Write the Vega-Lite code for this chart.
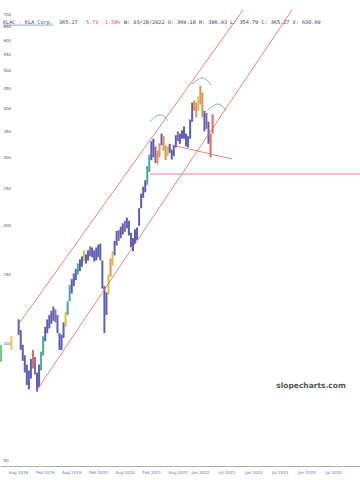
{
  "$schema": "https://vega.github.io/schema/vega-lite/v6.json",
  "width": 360,
  "height": 466,
  "autosize": {"type": "none"},
  "padding": {"left": 0, "top": 0, "right": 0, "bottom": 14},
  "background": "white",
  "config": {"view": {"stroke": null}, "axis": {"grid": false, "labelOverlap": false, "labelSeparation": 0}},
  "datasets": {
    "px": [
      {"t":"2018-08-06","lo":105,"hi":115,"c":"a"},
      {"t":"2018-08-20","lo":96,"hi":108,"c":"a"},
      {"t":"2018-09-03","lo":90,"hi":99,"c":"a"},
      {"t":"2018-09-17","lo":84,"hi":93,"c":"a"},
      {"t":"2018-10-01","lo":78,"hi":88,"c":"a"},
      {"t":"2018-10-15","lo":76,"hi":85,"c":"a"},
      {"t":"2018-10-29","lo":81,"hi":91,"c":"a"},
      {"t":"2018-11-12","lo":86,"hi":96,"c":"r"},
      {"t":"2018-11-26","lo":83,"hi":92,"c":"b"},
      {"t":"2018-12-10","lo":75,"hi":84,"c":"a"},
      {"t":"2018-12-24","lo":77,"hi":88,"c":"a"},
      {"t":"2019-01-07","lo":85,"hi":95,"c":"g"},
      {"t":"2019-01-21","lo":93,"hi":104,"c":"g"},
      {"t":"2019-02-04","lo":101,"hi":110,"c":"a"},
      {"t":"2019-02-18","lo":106,"hi":115,"c":"a"},
      {"t":"2019-03-04","lo":109,"hi":118,"c":"a"},
      {"t":"2019-03-18","lo":112,"hi":121,"c":"a"},
      {"t":"2019-04-01","lo":114,"hi":124,"c":"a"},
      {"t":"2019-04-15","lo":113,"hi":122,"c":"b"},
      {"t":"2019-04-29","lo":106,"hi":118,"c":"a"},
      {"t":"2019-05-13","lo":96,"hi":106,"c":"a"},
      {"t":"2019-05-27","lo":96,"hi":105,"c":"a"},
      {"t":"2019-06-10","lo":103,"hi":113,"c":"a"},
      {"t":"2019-06-24","lo":110,"hi":120,"c":"y"},
      {"t":"2019-07-08","lo":118,"hi":128,"c":"g"},
      {"t":"2019-07-22","lo":128,"hi":141,"c":"g"},
      {"t":"2019-08-05","lo":134,"hi":146,"c":"a"},
      {"t":"2019-08-19","lo":140,"hi":151,"c":"a"},
      {"t":"2019-09-02","lo":145,"hi":155,"c":"a"},
      {"t":"2019-09-16","lo":150,"hi":160,"c":"g"},
      {"t":"2019-09-30","lo":153,"hi":164,"c":"a"},
      {"t":"2019-10-14","lo":157,"hi":167,"c":"a"},
      {"t":"2019-10-28","lo":162,"hi":173,"c":"y"},
      {"t":"2019-11-11","lo":160,"hi":169,"c":"a"},
      {"t":"2019-11-25","lo":163,"hi":173,"c":"a"},
      {"t":"2019-12-09","lo":167,"hi":177,"c":"b"},
      {"t":"2019-12-23","lo":166,"hi":176,"c":"a"},
      {"t":"2020-01-06","lo":162,"hi":173,"c":"a"},
      {"t":"2020-01-20","lo":163,"hi":176,"c":"a"},
      {"t":"2020-02-03","lo":166,"hi":179,"c":"a"},
      {"t":"2020-02-17","lo":163,"hi":180,"c":"a"},
      {"t":"2020-03-02","lo":138,"hi":163,"c":"a"},
      {"t":"2020-03-16","lo":106,"hi":140,"c":"a"},
      {"t":"2020-03-30","lo":118,"hi":135,"c":"a"},
      {"t":"2020-04-13","lo":133,"hi":150,"c":"y"},
      {"t":"2020-04-27","lo":148,"hi":165,"c":"o"},
      {"t":"2020-05-11","lo":158,"hi":172,"c":"y"},
      {"t":"2020-05-25","lo":168,"hi":183,"c":"a"},
      {"t":"2020-06-08","lo":178,"hi":194,"c":"a"},
      {"t":"2020-06-22","lo":183,"hi":195,"c":"b"},
      {"t":"2020-07-06","lo":186,"hi":199,"c":"a"},
      {"t":"2020-07-20","lo":190,"hi":203,"c":"a"},
      {"t":"2020-08-03","lo":193,"hi":206,"c":"b"},
      {"t":"2020-08-17","lo":197,"hi":210,"c":"a"},
      {"t":"2020-08-31","lo":189,"hi":206,"c":"a"},
      {"t":"2020-09-14","lo":176,"hi":192,"c":"a"},
      {"t":"2020-09-28","lo":172,"hi":186,"c":"a"},
      {"t":"2020-10-12","lo":180,"hi":196,"c":"a"},
      {"t":"2020-10-26","lo":184,"hi":198,"c":"a"},
      {"t":"2020-11-09","lo":200,"hi":222,"c":"a"},
      {"t":"2020-11-23","lo":222,"hi":242,"c":"a"},
      {"t":"2020-12-07","lo":236,"hi":252,"c":"a"},
      {"t":"2020-12-21","lo":244,"hi":262,"c":"a"},
      {"t":"2021-01-04","lo":255,"hi":285,"c":"g"},
      {"t":"2021-01-18","lo":275,"hi":305,"c":"g"},
      {"t":"2021-02-01","lo":295,"hi":330,"c":"a"},
      {"t":"2021-02-15","lo":300,"hi":335,"c":"a"},
      {"t":"2021-03-01","lo":290,"hi":320,"c":"b"},
      {"t":"2021-03-15","lo":288,"hi":312,"c":"o"},
      {"t":"2021-03-29","lo":300,"hi":326,"c":"o"},
      {"t":"2021-04-12","lo":322,"hi":345,"c":"a"},
      {"t":"2021-04-26","lo":312,"hi":340,"c":"o"},
      {"t":"2021-05-10","lo":295,"hi":322,"c":"o"},
      {"t":"2021-05-24","lo":302,"hi":320,"c":"y"},
      {"t":"2021-06-07","lo":308,"hi":325,"c":"a"},
      {"t":"2021-06-21","lo":296,"hi":314,"c":"a"},
      {"t":"2021-07-05","lo":302,"hi":322,"c":"a"},
      {"t":"2021-07-19","lo":318,"hi":342,"c":"a"},
      {"t":"2021-08-02","lo":330,"hi":350,"c":"b"},
      {"t":"2021-08-16","lo":325,"hi":345,"c":"a"},
      {"t":"2021-08-30","lo":335,"hi":352,"c":"a"},
      {"t":"2021-09-13","lo":335,"hi":360,"c":"a"},
      {"t":"2021-09-27","lo":320,"hi":345,"c":"a"},
      {"t":"2021-10-11","lo":318,"hi":340,"c":"a"},
      {"t":"2021-10-25","lo":335,"hi":375,"c":"a"},
      {"t":"2021-11-08","lo":370,"hi":415,"c":"a"},
      {"t":"2021-11-22","lo":395,"hi":420,"c":"o"},
      {"t":"2021-12-06","lo":380,"hi":415,"c":"o"},
      {"t":"2021-12-20","lo":395,"hi":430,"c":"y"},
      {"t":"2022-01-03","lo":410,"hi":458,"c":"o"},
      {"t":"2022-01-17","lo":380,"hi":440,"c":"o"},
      {"t":"2022-01-31","lo":350,"hi":395,"c":"a"},
      {"t":"2022-02-14","lo":355,"hi":390,"c":"b"},
      {"t":"2022-02-28","lo":325,"hi":370,"c":"a"},
      {"t":"2022-03-14","lo":300,"hi":345,"c":"r"},
      {"t":"2022-03-28","lo":345,"hi":387,"c":"r"}
    ],
    "mk": [
      {"t":"2018-04-07","lo":89.4,"hi":98.8,"col":"#7cc87c"},
      {"t":"2018-06-17","lo":96,"hi":104.2,"col":"#e8c860"}
    ],
    "ln": [
      {"id":"up","t":"2018-08-01","p":111.2},{"id":"up","t":"2022-10-22","p":717},
      {"id":"lo","t":"2018-12-09","p":75.7},{"id":"lo","t":"2023-09-23","p":717},
      {"id":"hz","t":"2021-01-22","p":271.8},{"id":"hz","t":"2025-01-02","p":271.8},
      {"id":"dn","t":"2021-06-22","p":322.7},{"id":"dn","t":"2022-08-08","p":297}
    ],
    "ul": [
      {"t":"2018-04-20","p":656},{"t":"2019-03-29","p":656}
    ],
    "arc": [
      {"id":"a1","t":"2021-01-22","p":369.8},{"id":"a1","t":"2021-02-25","p":380.9},{"id":"a1","t":"2021-04-01","p":385.4},{"id":"a1","t":"2021-05-05","p":380.9},{"id":"a1","t":"2021-05-26","p":372},
      {"id":"a2","t":"2021-11-06","p":462.9},{"id":"a2","t":"2021-12-11","p":474},{"id":"a2","t":"2022-01-14","p":479.8},{"id":"a2","t":"2022-02-17","p":474},{"id":"a2","t":"2022-03-16","p":460.3},
      {"id":"a3","t":"2022-02-24","p":397},{"id":"a3","t":"2022-03-30","p":406.5},{"id":"a3","t":"2022-05-04","p":411.3},{"id":"a3","t":"2022-05-31","p":406.5},{"id":"a3","t":"2022-06-28","p":397}
    ],
    "hdr": [
      {"t":"2018-04-20","p":668,"s":"KLAC - KLA Corp.","col":"#3a4aa8"},
      {"t":"2019-05-09","p":668,"s":"365.27","col":"#444444"},
      {"t":"2019-10-21","p":668,"s":"-5.79 -1.58%","col":"#e05050"},
      {"t":"2020-07-28","p":668,"s":"W: 03/28/2022 O: 369.18 H: 386.93 L: 354.79 C: 365.27 V: 630.69","col":"#3a3a70"}
    ],
    "wm": [
      {"t":"2024-02-01","p":77.5,"s":"slopecharts.com"}
    ]
  },
  "layer": [
    {
      "data": {"name": "px"},
      "mark": {"type": "rule", "strokeWidth": 2.0},
      "encoding": {
        "x": {"field": "t", "type": "temporal", "title": null,
          "scale": {"domain": [{"year": 2018, "month": "Mar", "date": 31}, {"year": 2025, "month": "Jan", "date": 2}], "nice": false},
          "axis": {"title": null, "format": "%b %Y", "tickCount": 40, "labelFontSize": 4, "labelColor": "#6a70b8", "ticks": false, "domainColor": "#999999", "domainWidth": 0.8, "labelPadding": 4, "labelOverlap": false, "labelSeparation": 0, "labelFont": "DejaVu Sans",
            "values": [1533081600000, 1548979200000, 1564617600000, 1580515200000, 1596240000000, 1612137600000, 1627776000000, 1640995200000, 1656633600000, 1672531200000, 1688169600000, 1704067200000, 1719792000000]}},
        "y": {"field": "lo", "type": "quantitative", "title": null,
          "scale": {"type": "log", "domain": [48.3, 761], "nice": false, "zero": false},
          "axis": {"title": null, "tickCount": 40, "values": [50,100,150,200,250,300,350,400,450,500,550,600,650,700], "format": "d", "domain": false, "ticks": false, "labelAlign": "left", "labelPadding": -3, "labelFontSize": 4, "labelColor": "#555566", "labelOverlap": false, "labelBound": false, "labelFont": "DejaVu Sans"}},
        "y2": {"field": "hi"},
        "color": {"field": "c", "type": "nominal", "legend": null,
          "scale": {"domain": ["a","b","g","y","o","r"], "range": ["#5b5fae","#8a66b0","#4fa39a","#d9c04a","#d9935a","#d86a6a"]}}
      }
    },
    {
      "data": {"name": "mk"},
      "mark": {"type": "rule", "strokeWidth": 2.0},
      "encoding": {
        "x": {"field": "t", "type": "temporal", "title": null},
        "y": {"field": "lo", "type": "quantitative", "title": null},
        "y2": {"field": "hi"},
        "color": {"field": "col", "type": "nominal", "scale": null}
      }
    },
    {
      "data": {"name": "ln"},
      "mark": {"type": "line", "color": "#e06666", "strokeWidth": 0.8},
      "encoding": {
        "x": {"field": "t", "type": "temporal", "title": null},
        "y": {"field": "p", "type": "quantitative", "title": null},
        "detail": {"field": "id"}
      }
    },
    {
      "data": {"name": "ul"},
      "mark": {"type": "line", "color": "#3a4aa8", "strokeWidth": 0.5},
      "encoding": {
        "x": {"field": "t", "type": "temporal", "title": null},
        "y": {"field": "p", "type": "quantitative", "title": null}
      }
    },
    {
      "data": {"name": "arc"},
      "mark": {"type": "line", "color": "#5aa89a", "strokeWidth": 0.8, "interpolate": "monotone"},
      "encoding": {
        "x": {"field": "t", "type": "temporal", "title": null},
        "y": {"field": "p", "type": "quantitative", "title": null},
        "detail": {"field": "id"}
      }
    },
    {
      "data": {"name": "hdr"},
      "mark": {"type": "text", "align": "left", "baseline": "middle", "font": "DejaVu Sans Mono", "fontSize": 5.2},
      "encoding": {
        "x": {"field": "t", "type": "temporal", "title": null},
        "y": {"field": "p", "type": "quantitative", "title": null},
        "text": {"field": "s"},
        "color": {"field": "col", "type": "nominal", "scale": null}
      }
    },
    {
      "data": {"name": "wm"},
      "mark": {"type": "text", "align": "center", "baseline": "middle", "font": "DejaVu Sans", "fontSize": 7.5, "fontWeight": "bold", "color": "#555555"},
      "encoding": {
        "x": {"field": "t", "type": "temporal", "title": null},
        "y": {"field": "p", "type": "quantitative", "title": null},
        "text": {"field": "s"}
      }
    }
  ]
}
